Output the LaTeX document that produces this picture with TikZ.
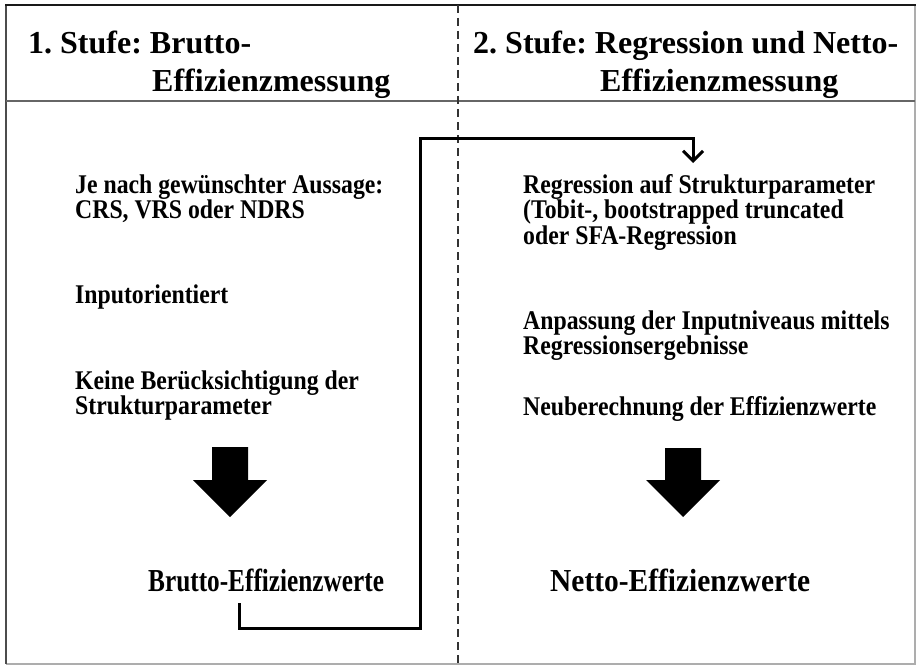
\documentclass[tikz,border=0pt]{standalone}
\usepackage{fontspec}
\setmainfont{Liberation Serif}
\newfontfamily\bodyserif[FakeStretch=0.88]{Liberation Serif}
\newfontfamily\resultserif[FakeStretch=0.79]{Liberation Serif}
\newfontfamily\resultserifwide[FakeStretch=0.92]{Liberation Serif}
\usetikzlibrary{arrows.meta}
\frenchspacing
% left-aligned lines at a fixed baseline distance; the box's baseline is that of its first line
\newcommand\linestack[1]{\vtop{\baselineskip=25.5pt\lineskiplimit=-50pt\lineskip=0pt
  \halign{##\hfil\cr#1\crcr}}}

\begin{document}
\begin{tikzpicture}[x=1pt, y=-1pt,
  head/.style={anchor=base west, inner sep=0pt, text height=23pt, text depth=7pt,
    font=\bfseries\fontsize{32}{38}\selectfont},
  txt/.style={anchor=base west, inner sep=0pt,
    font=\bodyserif\bfseries\fontsize{27}{26}\selectfont},
  big/.style={anchor=base west, inner sep=0pt, text height=23pt, text depth=7pt},
  flow/.style={line width=3pt, -{Straight Barb[length=10pt,width=20pt]}},
  blockarrow/.style={fill=black, draw=none},
  frametop/.style={line width=2.2pt, draw=black!90},
  frameside/.style={line width=1.5pt, draw=black!70},
  framelight/.style={line width=1.2pt, draw=black!32},
  divider/.style={line width=1.5pt, draw=black!60},
  stageline/.style={line width=1.6pt, draw=black!80, dash pattern=on 8pt off 5pt}]

\useasboundingbox (0,0) rectangle (917,666);

% frame, header rule and stage divider
\draw[framelight] (915,5) -- (915,664) -- (6,664);
\draw[frameside] (6,5) -- (6,664);
\draw[frametop] (5,5) -- (916,5);
\draw[divider] (6,101) -- (915,101);
\draw[stageline] (458,5) -- (458,666);

% headings
\node[head] (h1a) at (28,54) {1. Stufe: Brutto-};
\node[head] (h1b) at (152,92) {Effizienzmessung};
\node[head] (h2a) at (473,54) {2. Stufe: Regression und Netto-};
\node[head] (h2b) at (600,92) {Effizienzmessung};

% stage 1
\node[txt] (l1) at (75,193) {\linestack{Je nach gewünschter Aussage:\cr CRS, VRS oder NDRS}};
\node[txt] (l3) at (75,303) {Inputorientiert};
\node[txt] (l4) at (75,389) {\linestack{Keine Berücksichtigung der\cr Strukturparameter}};
\node[big, font=\resultserif\bfseries\fontsize{32}{36}\selectfont] (brutto) at (148,591) {Brutto-Effizienzwerte};

% stage 2
\node[txt] (r1) at (523,193) {\linestack{Regression auf Strukturparameter\cr
  (Tobit-, bootstrapped truncated\cr oder SFA-Regression}};
\node[txt] (r4) at (523,329) {\linestack{Anpassung der Inputniveaus mittels\cr Regressionsergebnisse}};
\node[txt] (r6) at (523,415) {Neuberechnung der Effizienzwerte};
\node[big, font=\resultserifwide\bfseries\fontsize{32}{36}\selectfont] (netto) at (550,591) {Netto-Effizienzwerte};

% block arrows
\fill[blockarrow] (212,447) -- (248,447) -- (248,480) -- (267,480) -- (230,517)
  -- (193,480) -- (212,480) -- cycle;
\fill[blockarrow] (665,448) -- (701,448) -- (701,480) -- (720,480) -- (683,517)
  -- (646,480) -- (665,480) -- cycle;

% hand-over from stage 1 to stage 2
\coordinate (out) at (239,603);
\coordinate (bendlow) at (420,628);
\coordinate (bendhigh) at (420,138);
\coordinate (in) at (693,163);
\draw[flow] (out) |- (bendlow) -- (bendhigh) -| (in);
\end{tikzpicture}
\end{document}
